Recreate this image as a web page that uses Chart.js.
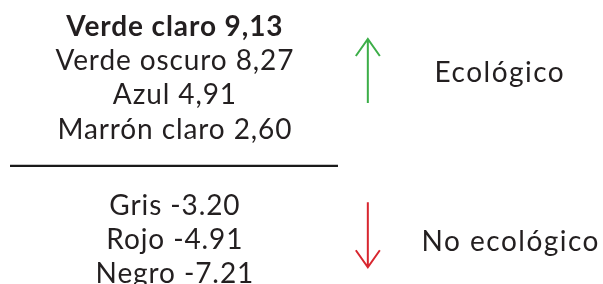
<!DOCTYPE html>
<html>
<head>
<meta charset="utf-8">
<script src="https://cdn.jsdelivr.net/npm/chart.js@4.4.1/dist/chart.umd.min.js"></script>
<style>
  html, body { margin: 0; padding: 0; background: #fff; }
  #wrap { width: 603px; height: 284px; position: relative; }
</style>
</head>
<body>
<div id="wrap"><canvas id="colores_chart"></canvas></div>
<script>
// Colores de coche: ecológico / no ecológico

const categories = ['Verde claro', 'Verde oscuro', 'Azul', 'Marrón claro', 'Gris', 'Rojo', 'Negro'];
const values = [9.13, 8.27, 4.91, 2.60, -3.20, -4.91, -7.21];
const groupLabels = ['Ecológico', 'No ecológico'];
const groupColors = ['#3cae48', '#d8262f'];

const FONT = 'Lato';
const TEXT_COLOR = '#231f20';
const GAP = 1.22;          // separation (in rows) between the two groups
const textCol = 0.29;      // x of the list, fraction of width

// row position: positives 0..n, negatives after a gap
function rowOf(i) {
    let nPos = values.filter(v => v > 0).length;
    return i < nPos ? i : i + GAP;
}

function fmt(v) {
    // the original uses comma for positives and dot for negatives
    return v > 0 ? v.toFixed(2).replace('.', ',') : v.toFixed(2);
}

let points = values.map((v, i) => ({ x: textCol, y: rowOf(i) }));
let nPos = values.filter(v => v > 0).length;
let maxVal = Math.max(...values);

const textPlugin = {
    id: 'textPlugin',
    afterDatasetsDraw(chart) {
        const ctx = chart.ctx;
        const xs = chart.scales.x, ys = chart.scales.y;
        const meta = chart.getDatasetMeta(0);
        ctx.save();
        ctx.fillStyle = TEXT_COLOR;
        ctx.textAlign = 'center';
        ctx.textBaseline = 'alphabetic';
        ctx.letterSpacing = '0.9px';
        meta.data.forEach((pt, i) => {
            let bold = values[i] === maxVal;
            ctx.font = (bold ? '700 ' : '400 ') + '28px ' + FONT;
            ctx.fillText(categories[i] + ' ' + fmt(values[i]), pt.x, pt.y);
        });

        // divider between groups
        let yDiv = ys.getPixelForValue(nPos - 1 + 0.8);
        ctx.strokeStyle = '#1a1a1a';
        ctx.lineWidth = 2.2;
        ctx.beginPath();
        ctx.moveTo(xs.getPixelForValue(0.0166), yDiv);
        ctx.lineTo(xs.getPixelForValue(0.5605), yDiv);
        ctx.stroke();

        // arrows
        let ax = xs.getPixelForValue(0.61);
        drawArrow(ctx, ax, ys.getPixelForValue(1.96), ys.getPixelForValue(0.09), groupColors[0]);
        drawArrow(ctx, ax, ys.getPixelForValue(nPos + GAP - 0.36), ys.getPixelForValue(nPos + GAP + 1.54), groupColors[1]);

        // group labels
        ctx.fillStyle = TEXT_COLOR;
        ctx.font = '400 28px ' + FONT;
        ctx.letterSpacing = '1.5px';
        ctx.fillText(groupLabels[0], xs.getPixelForValue(0.829), ys.getPixelForValue(1.35));
        ctx.fillText(groupLabels[1], xs.getPixelForValue(0.847), ys.getPixelForValue(nPos + GAP + 1.07));
        ctx.restore();
    }
};

function drawArrow(ctx, x, yFrom, yTo, color) {
    let dir = yTo > yFrom ? 1 : -1;
    ctx.strokeStyle = color;
    ctx.lineWidth = 2;
    ctx.lineCap = 'butt';
    ctx.beginPath();
    ctx.moveTo(x, yFrom);
    ctx.lineTo(x, yTo);
    ctx.moveTo(x - 12, yTo - dir * 17);
    ctx.lineTo(x, yTo);
    ctx.lineTo(x + 12, yTo - dir * 17);
    ctx.stroke();
}

const ctx_colores = document.getElementById('colores_chart').getContext('2d');
let colores_chart = new Chart(ctx_colores, {
    type: 'scatter',
    data: {
        datasets: [{
            data: points,
            pointRadius: 0,
            pointHoverRadius: 0,
        }]
    },
    options: {
        responsive: true,
        maintainAspectRatio: false,
        animation: false,
        layout: { padding: 0 },
        scales: {
            x: { type: 'linear', min: 0, max: 1, display: false },
            y: { type: 'linear', min: -1.05, max: 7.25, reverse: true, display: false }
        },
        plugins: {
            legend: { display: false },
            tooltip: { enabled: false }
        }
    },
    plugins: [textPlugin]
});
</script>
</body>
</html>
